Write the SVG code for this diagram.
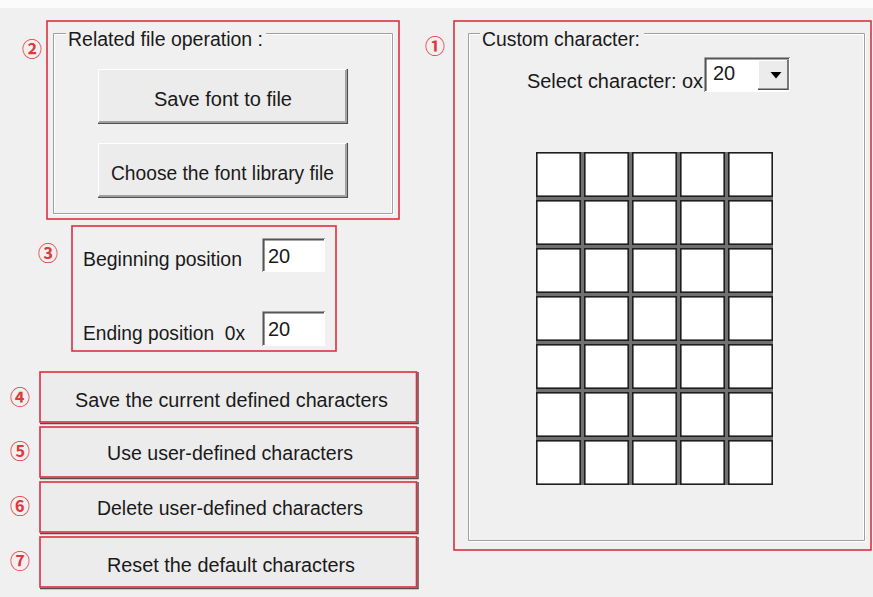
<svg xmlns="http://www.w3.org/2000/svg" xmlns:xlink="http://www.w3.org/1999/xlink" width="873" height="597" viewBox="0 0 873 597">
<style>
  .t { font-family: "Liberation Sans", Arial, sans-serif; font-size: 20px; fill: #1a1a1a; }
  .m { text-anchor: middle; }
  .num { font-family: "Noto Sans CJK SC", "DejaVu Sans", sans-serif; font-size: 20px; fill: #e0383c; font-weight: bold; text-anchor: middle; }
  .red { fill: none; stroke: #de3040; stroke-width: 1.6; }
  .etchD { fill: none; stroke: #a0a0a0; stroke-width: 1; }
  .etchL { fill: none; stroke: #ffffff; stroke-width: 1; }
  .btn { fill: #ececec; }
  .hi { stroke: #ffffff; stroke-width: 1; fill: none; }
  .sh1 { stroke: #a0a0a0; stroke-width: 1; fill: none; }
  .sh2 { stroke: #505050; stroke-width: 1.5; fill: none; }
  .edit { fill: #ffffff; }
  .cell { fill: #ffffff; stroke: #1e1e1e; stroke-width: 1.6; }
</style>
<defs>
  <rect id="c" class="cell" x="0.8" y="0.8" width="43.4" height="43.4"/>
  <g id="row">
    <use xlink:href="#c" x="0"/>
    <use xlink:href="#c" x="48"/>
    <use xlink:href="#c" x="96"/>
    <use xlink:href="#c" x="144"/>
    <use xlink:href="#c" x="192"/>
  </g>
</defs>

<rect x="0" y="0" width="873" height="597" fill="#f0f0f0"/>
<rect x="0" y="0" width="873" height="8" fill="#fbfbfb"/>

<!-- Group 2: related file operation -->
<g id="file-ops">
  <rect class="red" x="47" y="21" width="352" height="198"/>
  <path class="etchD" d="M66,33.5 H53.5 V213.5 H392.5 V33.5 H266"/>
  <path class="etchL" d="M66,34.5 H54.5 V212.5 M54.5,214.5 H393.5 V33.5 M391.5,34.5 V212.5 M391.5,34.5 H266"/>
  <text class="t" x="68" y="46" textLength="195" lengthAdjust="spacingAndGlyphs">Related file operation :</text>
  <text class="num" x="32" y="57">②</text>
</g>

<g id="btn-save-font">
  <rect class="btn" x="98" y="69" width="249" height="55"/>
  <path class="hi" d="M98.5,123 V69.5 H346"/>
  <path class="sh1" d="M99,121.5 H345.5 V70"/>
  <path class="sh2" d="M98,123.3 H347.3 V69"/>
  <text class="t m" x="223" y="106" textLength="138" lengthAdjust="spacingAndGlyphs">Save font to file</text>
</g>

<g id="btn-choose-lib">
  <rect class="btn" x="98" y="143" width="249" height="55"/>
  <path class="hi" d="M98.5,197 V143.5 H346"/>
  <path class="sh1" d="M99,195.5 H345.5 V144"/>
  <path class="sh2" d="M98,197.3 H347.3 V143"/>
  <text class="t m" x="222.5" y="180" textLength="223" lengthAdjust="spacingAndGlyphs">Choose the font library file</text>
</g>

<!-- Group 3: positions -->
<g id="positions">
  <rect class="red" x="72" y="226" width="264" height="125"/>
  <text class="num" x="48" y="261">③</text>
  <text class="t" x="83" y="266" textLength="159" lengthAdjust="spacingAndGlyphs">Beginning position</text>
  <rect class="edit" x="262" y="238" width="63" height="34"/>
  <path d="M262.5,272 V238.5 H325" stroke="#a0a0a0" stroke-width="1" fill="none"/>
  <path d="M263.8,271 V239.8 H324" stroke="#555555" stroke-width="1.6" fill="none"/>
  <text class="t" x="268" y="263">20</text>
  <text class="t" x="83" y="340" style="white-space:pre" xml:space="preserve" textLength="162" lengthAdjust="spacingAndGlyphs">Ending position  0x</text>
  <rect class="edit" x="262" y="311" width="63" height="35"/>
  <path d="M262.5,346 V311.5 H325" stroke="#a0a0a0" stroke-width="1" fill="none"/>
  <path d="M263.8,345 V312.8 H324" stroke="#555555" stroke-width="1.6" fill="none"/>
  <text class="t" x="268" y="336">20</text>
</g>

<!-- Buttons 4-7 -->
<g id="btn-save-current">
  <rect class="btn" x="40" y="372" width="377" height="51"/>
  <path class="sh2" d="M40,423.5 H418 V372"/>
  <rect class="red" x="40" y="372" width="376.5" height="50"/>
  <text class="num" x="20" y="405">④</text>
  <text class="t m" x="231.5" y="407" textLength="313" lengthAdjust="spacingAndGlyphs">Save the current defined characters</text>
</g>

<g id="btn-use-user">
  <rect class="btn" x="40" y="427" width="377" height="51"/>
  <path class="sh2" d="M40,478.5 H418 V427"/>
  <rect class="red" x="40" y="427" width="376.5" height="50"/>
  <text class="num" x="20" y="459">⑤</text>
  <text class="t m" x="230" y="460" textLength="246" lengthAdjust="spacingAndGlyphs">Use user-defined characters</text>
</g>

<g id="btn-delete-user">
  <rect class="btn" x="40" y="482" width="377" height="51"/>
  <path class="sh2" d="M40,533.5 H418 V482"/>
  <rect class="red" x="40" y="482" width="376.5" height="50"/>
  <text class="num" x="20" y="514">⑥</text>
  <text class="t m" x="230" y="515" textLength="266" lengthAdjust="spacingAndGlyphs">Delete user-defined characters</text>
</g>

<g id="btn-reset-default">
  <rect class="btn" x="40" y="537" width="377" height="51"/>
  <path class="sh2" d="M40,588.5 H418 V537"/>
  <rect class="red" x="40" y="537" width="376.5" height="50"/>
  <text class="num" x="20" y="569">⑦</text>
  <text class="t m" x="231" y="572" textLength="248" lengthAdjust="spacingAndGlyphs">Reset the default characters</text>
</g>

<!-- Group 1: custom character -->
<g id="custom-char">
  <rect class="red" x="454" y="21" width="417" height="529"/>
  <path class="etchD" d="M480,33.5 H468.5 V540.5 H864.5 V33.5 H644"/>
  <path class="etchL" d="M480,34.5 H469.5 V539.5 M469.5,541.5 H865.5 V33.5 M863.5,34.5 V539.5 M863.5,34.5 H644"/>
  <text class="t" x="482" y="46" textLength="158" lengthAdjust="spacingAndGlyphs">Custom character:</text>
  <text class="num" x="435" y="54">①</text>
</g>

<g id="select-char">
  <text class="t" x="527" y="88" textLength="176" lengthAdjust="spacingAndGlyphs">Select character: ox</text>
  <rect class="edit" x="704" y="57" width="86" height="35"/>
  <path d="M704.5,92 V57.5 H790" stroke="#a0a0a0" stroke-width="1" fill="none"/>
  <path d="M705.8,91 V58.8 H789" stroke="#555555" stroke-width="1.6" fill="none"/>
  <rect class="btn" x="758" y="60" width="30" height="30"/>
  <path class="hi" d="M758.5,89 V60.5 H787"/>
  <path class="sh2" d="M758,89.3 H788 V60"/>
  <path d="M770.5,72 H781.5 L776,78.5 Z" fill="#000000"/>
  <text class="t" x="713" y="80">20</text>
</g>

<g id="char-grid">
  <rect x="536" y="152" width="237" height="333" fill="#707070"/>
  <use xlink:href="#row" x="536" y="152"/>
  <use xlink:href="#row" x="536" y="200"/>
  <use xlink:href="#row" x="536" y="248"/>
  <use xlink:href="#row" x="536" y="296"/>
  <use xlink:href="#row" x="536" y="344"/>
  <use xlink:href="#row" x="536" y="392"/>
  <use xlink:href="#row" x="536" y="440"/>
</g>

<g id="connectors"></g>
</svg>
